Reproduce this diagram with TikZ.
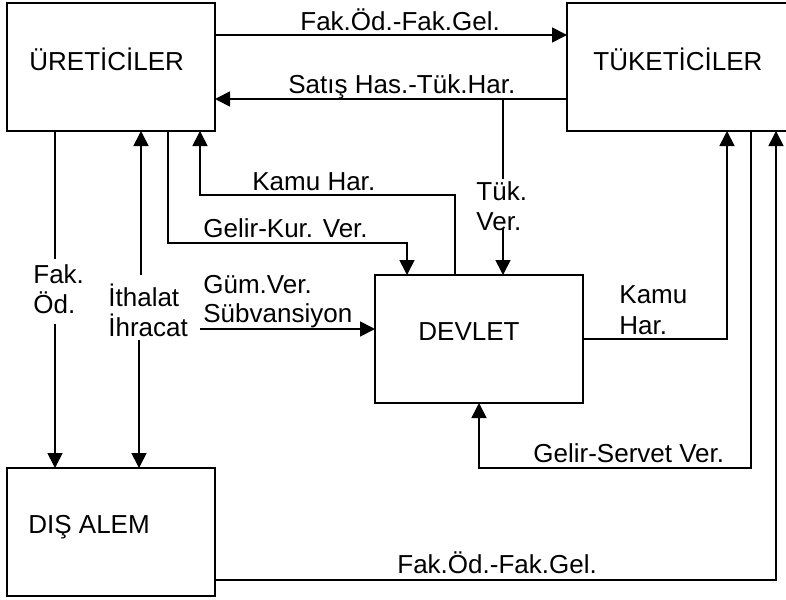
\documentclass[tikz,border=0pt]{standalone}
\usepackage{fontspec}
\setmainfont{Liberation Sans}
\usetikzlibrary{arrows.meta}
\begin{document}
\begin{tikzpicture}[x=0.5pt,y=-0.5pt,
  box/.style={draw,line width=0.7pt,anchor=north west,minimum height=64pt,inner sep=0pt,outer sep=0pt},
  ln/.style={line width=0.7pt},
  arr/.style={line width=0.85pt,-{Triangle[length=7.5pt,width=7.5pt]}},
  txt/.style={anchor=base west,inner sep=0pt,font=\fontsize{13}{15}\selectfont}]
\fill[white] (0,0) rectangle (786,599);
\useasboundingbox (0,0) rectangle (786,599);
\clip (0,0) rectangle (786,599);
% boxes
\node[box,minimum width=104pt] (U) at (7,3) {};
\node[box,minimum width=116.5pt] (T) at (567,3) {};
\node[box,minimum width=104pt] (D) at (375,275) {};
\node[box,minimum width=104pt] (A) at (7,468) {};
% box texts
\node[txt] (Ut) at (29,71) {ÜRETİCİLER};
\node[txt] (Tt) at (593,71) {TÜKETİCİLER};
\node[txt] (Dt) at (418,340) {DEVLET};
\node[txt] (At) at (28,533) {DIŞ ALEM};
% junction / free-end coordinates
\coordinate (j1) at (503,99);
\coordinate (j1a) at (503,179);
\coordinate (j1b) at (503,228);
\coordinate (f1) at (55,259);
\coordinate (f2) at (55,324);
\coordinate (i1) at (141,275);
\coordinate (i2) at (139,340);
\coordinate (g1) at (200,329);
% connectors
\draw[arr] (U.east |- 0,35) -- (T.west |- 0,35);
\draw[arr] (T.west |- 0,99) -- (U.east |- 0,99);
\draw[ln] (j1) -- (j1a);
\draw[arr] (j1b) -- (D.north -| j1b);
\draw[arr] (D.north -| 455,0) -- (455,195) -- (200,195) -- (U.south -| 200,0);
\draw[arr] (U.south -| 168,0) -- (168,243) -- (407,243) -- (D.north -| 407,0);
\draw[ln] (U.south -| f1) -- (f1);
\draw[arr] (f2) -- (A.north -| f2);
\draw[arr] (i1) -- (U.south -| i1);
\draw[arr] (i2) -- (A.north -| i2);
\draw[arr] (g1) -- (D.west |- g1);
\draw[arr] (D.east |- 0,339) -- (727,339) -- (T.south -| 727,0);
\draw[arr] (T.south -| 751,0) -- (751,468) -- (479,468) -- (D.south -| 479,0);
\draw[arr] (A.east |- 0,580) -- (776,580) -- (T.south -| 776,0);
% labels
\node[txt] (l1) at (300,31) {Fak.Öd.-Fak.Gel.};
\node[txt] (l2) at (288,94) {Satış Has.-Tük.Har.};
\node[txt] (l3a) at (476,200) {Tük.};
\node[txt] (l3b) at (476,230) {Ver.};
\node[txt] (l4) at (252,190) {Kamu Har.};
\node[txt] (l5) at (203,237) {Gelir-Kur. Ver.};
\node[txt] (l6a) at (33,283) {Fak.};
\node[txt] (l6b) at (33,313) {Öd.};
\node[txt] (l7a) at (108,306) {İthalat};
\node[txt] (l7b) at (108,336) {İhracat};
\node[txt] (l8a) at (203,293) {Güm.Ver.};
\node[txt] (l8b) at (203,322) {Sübvansiyon};
\node[txt] (l9a) at (619,303) {Kamu};
\node[txt] (l9b) at (619,334) {Har.};
\node[txt] (l10) at (533,462) {Gelir-Servet Ver.};
\node[txt] (l11) at (397,573) {Fak.Öd.-Fak.Gel.};
\end{tikzpicture}
\end{document}
